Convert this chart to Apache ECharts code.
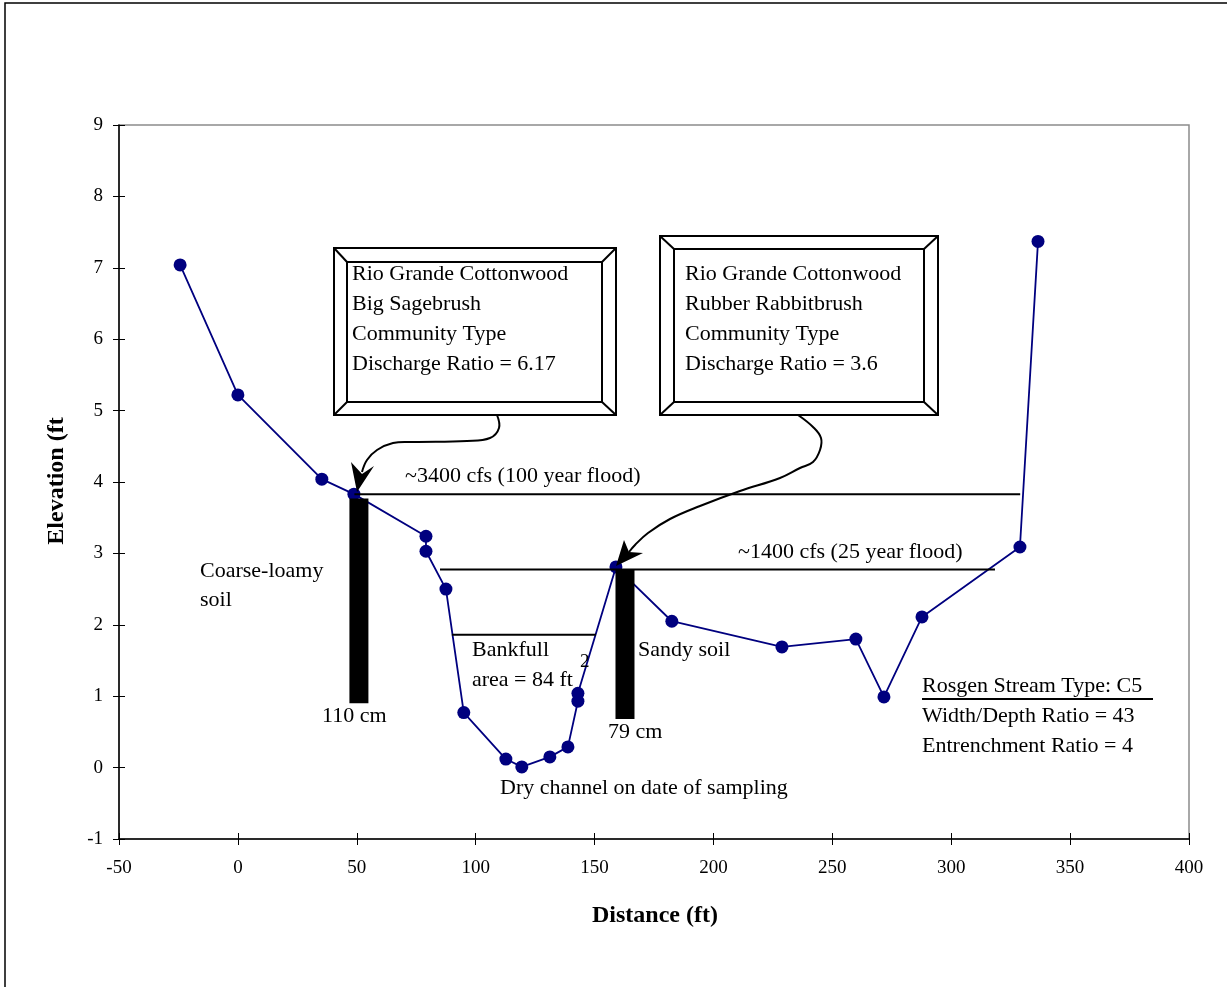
<!DOCTYPE html>
<html>
<head>
<meta charset="utf-8">
<script src="https://cdn.jsdelivr.net/npm/echarts@6/dist/echarts.min.js"></script>
<style>
  html, body { margin: 0; padding: 0; background: #fff; }
  #chart { width: 1227px; height: 987px; }
</style>
</head>
<body>
<div id="chart"></div>
<script>
// Surveyed cross-section: distance across the channel (ft) and ground elevation (ft)
const distance  = [-24.3, 0, 35.3, 48.8, 79.1, 79.1, 87.5, 95.0, 112.7, 119.4, 131.2, 138.8, 143.0, 143.0, 159.0, 182.5, 228.8, 259.9, 271.7, 287.7, 328.9, 336.5];
const elevation = [7.04, 5.22, 4.04, 3.83, 3.24, 3.03, 2.50, 0.77, 0.12, 0.01, 0.15, 0.29, 0.93, 1.04, 2.81, 2.05, 1.69, 1.80, 0.99, 2.11, 3.09, 7.37];

// Water-surface levels
const flood100Dist = [49, 329];
const flood100Elev = 3.83;
const flood25Dist = [85, 318.4];
const flood25Elev = 2.775;
const bankfullDist = [90, 150.6];
const bankfullElev = 1.86;

// Soil pits (drawn as thick black bars)
const pitDist = [50.9, 162.8];
const pitTop = [3.77, 2.78];
const pitBottom = [0.90, 0.68];

// Axis ticks
const xTicks = [-50, 0, 50, 100, 150, 200, 250, 300, 350, 400];
const yTicks = [-1, 0, 1, 2, 3, 4, 5, 6, 7, 8, 9];

const FONT = '"Liberation Serif", "Times New Roman", serif';
const chart = echarts.init(document.getElementById('chart'), null, { renderer: 'canvas' });

const profile = distance.map((d, i) => [d, elevation[i]]);

function levelSeries(name, dists, elev) {
  return {
    name, type: 'line', symbol: 'none', silent: true, z: 4,
    lineStyle: { color: '#000', width: 2 },
    data: dists.map(d => [d, elev])
  };
}

const pitSeries = pitDist.map((d, i) => ({
  name: 'pit' + i, type: 'line', symbol: 'none', silent: true, z: 5,
  lineStyle: { color: '#000', width: 19, cap: 'butt' },
  data: [[d, pitTop[i]], [d, pitBottom[i]]]
}));

function txt(text, x, y, opts) {
  return Object.assign({
    type: 'text', x, y, z: 20,
    style: Object.assign({
      text, fill: '#000', font: '22px ' + FONT,
      textAlign: 'left', textVerticalAlign: 'middle'
    }, (opts && opts.style) || {})
  }, opts && opts.el ? opts.el : {});
}

function bevelBox(o, inn, lines, tx, ty0) {
  const st = { stroke: '#000', lineWidth: 2 };
  const els = [
    { type: 'rect', shape: { x: o[0], y: o[1], width: o[2] - o[0], height: o[3] - o[1] }, style: { fill: '#fff', stroke: '#000', lineWidth: 2 }, z: 10 },
    { type: 'rect', shape: { x: inn[0], y: inn[1], width: inn[2] - inn[0], height: inn[3] - inn[1] }, style: { fill: '#fff', stroke: '#000', lineWidth: 2 }, z: 11 },
    { type: 'line', shape: { x1: o[0], y1: o[1], x2: inn[0], y2: inn[1] }, style: st, z: 11 },
    { type: 'line', shape: { x1: o[2], y1: o[1], x2: inn[2], y2: inn[1] }, style: st, z: 11 },
    { type: 'line', shape: { x1: o[0], y1: o[3], x2: inn[0], y2: inn[3] }, style: st, z: 11 },
    { type: 'line', shape: { x1: o[2], y1: o[3], x2: inn[2], y2: inn[3] }, style: st, z: 11 }
  ];
  lines.forEach((t, i) => els.push(txt(t, tx, ty0 + i * 30)));
  return els;
}

const graphics = [
  // outer frame
  { type: 'rect', shape: { x: 5, y: 3, width: 1260, height: 1020 }, style: { fill: 'none', stroke: '#000', lineWidth: 1.5 }, z: 1 },
  // axis titles
  txt('Elevation (ft', 57, 481, { style: { font: 'bold 24px ' + FONT, textAlign: 'center' }, el: { rotation: Math.PI / 2 } }),
  txt('Distance (ft)', 655, 916, { style: { font: 'bold 24px ' + FONT, textAlign: 'center' } }),

  ...bevelBox([334, 248, 616, 415], [347, 262, 602, 402],
    ['Rio Grande Cottonwood', 'Big Sagebrush', 'Community Type', 'Discharge Ratio = 6.17'], 352, 274),
  ...bevelBox([660, 236, 938, 415], [674, 249, 924, 402],
    ['Rio Grande Cottonwood', 'Rubber Rabbitbrush', 'Community Type', 'Discharge Ratio = 3.6'], 685, 274),

  // callout arrow to the left pit
  { type: 'polyline', z: 12, shape: { smooth: 0.4, points: [[497, 415], [499, 428], [490, 438], [467, 441], [413, 442], [393, 443], [377, 450], [367, 460], [362, 472]] },
    style: { fill: 'none', stroke: '#000', lineWidth: 2 } },
  { type: 'polygon', z: 12, shape: { points: [[357, 492], [351, 462], [362, 474], [374, 466]] }, style: { fill: '#000' } },

  // callout arrow to the right pit
  { type: 'polyline', z: 12, shape: { smooth: 0.4, points: [[798, 415], [813, 427], [821, 438], [820, 450], [813, 462], [800, 468], [780, 478], [740, 491], [700, 506], [670, 519], [648, 533], [635, 545], [629, 552]] },
    style: { fill: 'none', stroke: '#000', lineWidth: 2 } },
  { type: 'polygon', z: 12, shape: { points: [[616, 566], [624, 540], [629, 552], [643, 553]] }, style: { fill: '#000' } },

  // labels
  txt('~3400 cfs (100 year flood)', 405, 476),
  txt('~1400 cfs (25 year flood)', 738, 552),
  txt('Coarse-loamy', 200, 571),
  txt('soil', 200, 600),
  txt('Bankfull', 472, 650),
  txt('area = 84 ft', 472, 680),
  txt('2', 580, 662, { style: { font: '19px ' + FONT } }),
  txt('Sandy soil', 638, 650),
  txt('110 cm', 322, 716),
  txt('79 cm', 608, 732),
  txt('Dry channel on date of sampling', 500, 788),
  txt('Rosgen Stream Type: C5', 922, 686),
  { type: 'line', z: 20, shape: { x1: 922, y1: 699, x2: 1153, y2: 699 }, style: { stroke: '#000', lineWidth: 2 } },
  txt('Width/Depth Ratio = 43', 922, 716),
  txt('Entrenchment Ratio = 4', 922, 746)
];

const xRange = { type: 'value', min: xTicks[0], max: xTicks[xTicks.length - 1], interval: 50 };
const yRange = { type: 'value', min: yTicks[0], max: yTicks[yTicks.length - 1], interval: 1 };

chart.setOption({
  backgroundColor: '#fff',
  animation: false,
  grid: { left: 119, right: 38, top: 125, bottom: 148, show: true, borderColor: '#8c8c8c', borderWidth: 1.5, backgroundColor: 'transparent' },
  xAxis: [
    Object.assign({}, xRange, {
      position: 'bottom',
      axisLine: { show: true, onZero: false, lineStyle: { color: '#000', width: 1.5 } },
      axisTick: { show: true, length: 6, lineStyle: { color: '#000' } },
      splitLine: { show: false },
      axisLabel: { color: '#000', fontFamily: FONT, fontSize: 19, margin: 20 }
    }),
    // inner half of the cross ticks
    Object.assign({}, xRange, {
      position: 'bottom',
      axisLine: { show: false, onZero: false },
      axisTick: { show: true, inside: true, length: 6, lineStyle: { color: '#000' } },
      splitLine: { show: false },
      axisLabel: { show: false }
    })
  ],
  yAxis: [
    Object.assign({}, yRange, {
      position: 'left',
      axisLine: { show: true, onZero: false, lineStyle: { color: '#000', width: 1.5 } },
      axisTick: { show: true, length: 6, lineStyle: { color: '#000' } },
      splitLine: { show: false },
      axisLabel: { color: '#000', fontFamily: FONT, fontSize: 19, margin: 16 }
    }),
    Object.assign({}, yRange, {
      position: 'left',
      axisLine: { show: false, onZero: false },
      axisTick: { show: true, inside: true, length: 6, lineStyle: { color: '#000' } },
      splitLine: { show: false },
      axisLabel: { show: false }
    })
  ],
  series: [
    {
      name: 'Elevation', type: 'line', z: 3,
      symbol: 'circle', symbolSize: 13,
      itemStyle: { color: '#00007f' },
      lineStyle: { color: '#00007f', width: 1.8 },
      data: profile
    },
    levelSeries('100 year flood', flood100Dist, flood100Elev),
    levelSeries('25 year flood', flood25Dist, flood25Elev),
    levelSeries('Bankfull', bankfullDist, bankfullElev),
    ...pitSeries
  ],
  graphic: graphics
});
</script>
</body>
</html>
